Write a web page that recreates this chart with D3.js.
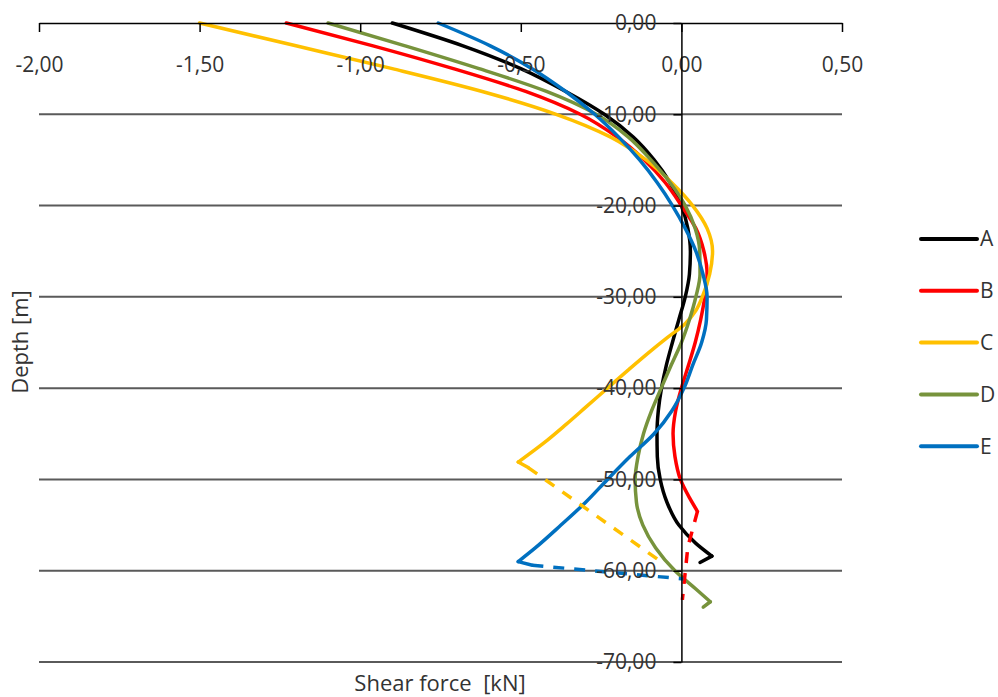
<!DOCTYPE html>
<html>
<head>
<meta charset="utf-8">
<script src="https://cdn.jsdelivr.net/npm/d3@7"></script>
<style>
  body{margin:0;background:#fff;}
  text{font-family:"Open Sans",sans-serif;fill:#333;}
</style>
</head>
<body>
<div id="chart"></div>
<script>
// [depth (m), shear force (kN)]
const seriesA=[[0,-0.90],[-2.5,-0.68],[-5,-0.50],[-7.5,-0.36],[-10,-0.24],[-12.5,-0.15],[-15,-0.085],[-17.5,-0.035],[-20,0.0],[-22.5,0.02],[-25,0.028],[-27.5,0.025],[-30,0.012],[-32.5,-0.008],[-35,-0.028],[-37.5,-0.047],[-40,-0.062],[-42.5,-0.072],[-45,-0.076],[-47.5,-0.075],[-50,-0.066],[-52.5,-0.045],[-55,-0.008],[-57,0.045],[-58.4,0.095]];
const seriesB=[[0,-1.23],[-2.5,-0.96],[-5,-0.71],[-7.5,-0.485],[-10,-0.315],[-12.5,-0.2],[-15,-0.115],[-17.5,-0.05],[-20,0.0],[-22.5,0.045],[-25,0.07],[-27.5,0.08],[-30,0.073],[-32.5,0.06],[-35,0.043],[-37.5,0.022],[-40,0.0],[-42.5,-0.018],[-45,-0.026],[-47.5,-0.02],[-50,-0.003],[-52,0.025],[-53.5,0.05]];
const seriesC=[[0,-1.50],[-2.5,-1.20],[-5,-0.90],[-7.5,-0.62],[-10,-0.39],[-12.5,-0.22],[-15,-0.11],[-17.5,-0.03],[-20,0.035],[-22.5,0.08],[-25,0.097],[-27.5,0.088],[-30,0.065],[-31.5,0.045],[-33,0.01],[-34.5,-0.045],[-36,-0.098],[-38,-0.165],[-40,-0.23],[-42,-0.295],[-44,-0.36],[-46,-0.428],[-48.1,-0.508]];
const seriesD=[[0,-1.10],[-2.5,-0.86],[-5,-0.63],[-7.5,-0.42],[-10,-0.265],[-12.5,-0.165],[-15,-0.095],[-17.5,-0.035],[-20,0.012],[-22.5,0.043],[-25,0.057],[-27.5,0.058],[-30,0.045],[-32.5,0.025],[-35,0.0],[-37.5,-0.032],[-40,-0.063],[-42.5,-0.093],[-45,-0.118],[-47.5,-0.135],[-50,-0.144],[-52.5,-0.14],[-55,-0.12],[-57.5,-0.08],[-60,-0.02],[-62,0.045],[-63.4,0.09]];
const seriesE=[[0,-0.757],[-2.5,-0.595],[-5,-0.465],[-7.5,-0.36],[-10,-0.27],[-12.5,-0.195],[-15,-0.13],[-17.5,-0.075],[-20,-0.028],[-22.5,0.012],[-25,0.045],[-27.5,0.067],[-30,0.08],[-32.5,0.078],[-35,0.063],[-37.5,0.035],[-40,0.008],[-42.5,-0.03],[-45,-0.085],[-47.5,-0.16],[-50,-0.23],[-52.5,-0.298],[-55,-0.375],[-57.5,-0.455],[-59.0,-0.508]];
// short end segments after the last turn
const hookA=[[-58.4,0.095],[-59.1,0.058]];
const hookC=[[-48.1,-0.508],[-48.7,-0.477]];
const hookD=[[-63.4,0.09],[-64.0,0.068]];
const hookE=[[-59.0,-0.508],[-59.4,-0.464]];
// dashed continuations
const dashB=[[-53.5,0.05],[-57.4,0.02],[-63.2,0.003]];
const dashC=[[-48.7,-0.477],[-58.8,-0.072]];
const dashE=[[-59.4,-0.464],[-60.9,0.006]];

const names=["A","B","C","D","E"];
const colors=["#000000","#ff0000","#ffc000","#77933c","#0070c0"];
const xTicks=[-2,-1.5,-1,-0.5,0,0.5];
const yTicks=[0,-10,-20,-30,-40,-50,-60,-70];

const w=998,h=697;
const svg=d3.select("#chart").append("svg").attr("width",w).attr("height",h);

const x=d3.scaleLinear().domain([-2,0.5]).range([39,842]);
const y=d3.scaleLinear().domain([0,-70]).range([23,662]);

const loc=d3.formatLocale({decimal:",",thousands:".",grouping:[3],currency:["",""],minus:"-"});
const fmt=loc.format(".2f");

// gridlines
svg.append("g").selectAll("line")
  .data(yTicks.filter(d=>d!==0))
  .enter().append("line")
  .attr("x1",x(-2)).attr("x2",x(0.5))
  .attr("y1",d=>y(d)).attr("y2",d=>y(d))
  .attr("stroke","#5a5a5a").attr("stroke-width",2);

const line=d3.line()
  .x(d=>x(d[1])).y(d=>y(d[0]))
  .curve(d3.curveMonotoneY);
const lin=d3.line().x(d=>x(d[1])).y(d=>y(d[0]));

const solid=[[seriesA,0],[hookA,0],[seriesB,1],[seriesC,2],[hookC,2],[seriesD,3],[hookD,3],[seriesE,4],[hookE,4]];
svg.append("g").selectAll("path")
  .data(solid)
  .enter().append("path")
  .attr("d",d=>d[0].length>2?line(d[0]):lin(d[0]))
  .attr("fill","none")
  .attr("stroke",d=>colors[d[1]])
  .attr("stroke-width",3.5)
  .attr("stroke-linejoin","round")
  .attr("stroke-linecap","round");

const dashes=[[dashB,1],[dashC,2],[dashE,4]];
svg.append("g").selectAll("path")
  .data(dashes)
  .enter().append("path")
  .attr("d",d=>lin(d[0]))
  .attr("fill","none")
  .attr("stroke",d=>colors[d[1]])
  .attr("stroke-width",3.5)
  .attr("stroke-dasharray","11,10");

// top x axis
const xAxis=svg.append("g").attr("transform",`translate(0,${y(0)})`)
  .call(d3.axisBottom(x).tickValues(xTicks).tickFormat(fmt).tickSize(9).tickPadding(25).tickSizeOuter(0));
xAxis.select(".domain").attr("stroke","#000").attr("stroke-width",1.5);
xAxis.selectAll(".tick line").attr("stroke","#000").attr("stroke-width",1.5);
xAxis.selectAll("text").style("font-size","21px").attr("fill","#333").style("font-family","'Open Sans',sans-serif");

// y axis at x = 0
const yAxis=svg.append("g").attr("transform",`translate(${x(0)},0)`)
  .call(d3.axisLeft(y).tickValues(yTicks).tickFormat(fmt).tickSize(8).tickPadding(17).tickSizeOuter(0));
yAxis.select(".domain").attr("stroke","#000").attr("stroke-width",1.5);
yAxis.selectAll(".tick line").attr("stroke","#000").attr("stroke-width",1.5);
yAxis.selectAll("text").style("font-size","21px").attr("fill","#333").style("font-family","'Open Sans',sans-serif");

// axis titles
svg.append("text").attr("x",440).attr("y",691).attr("text-anchor","middle")
  .style("font-size","22px").style("white-space","pre").text("Shear force  [kN]");
svg.append("text").attr("transform","translate(28,342) rotate(-90)").attr("text-anchor","middle")
  .style("font-size","22px").text("Depth [m]");

// legend
const leg=svg.append("g").selectAll("g").data(names).enter().append("g")
  .attr("transform",(d,i)=>`translate(921,${239+i*51.8})`);
leg.append("line").attr("x1",0).attr("x2",56).attr("y1",0).attr("y2",0)
  .attr("stroke",(d,i)=>colors[i]).attr("stroke-width",4).attr("stroke-linecap","round");
leg.append("text").attr("x",59).attr("y",0).attr("dy","0.35em")
  .style("font-size","21px").text(d=>d);
</script>
</body>
</html>
